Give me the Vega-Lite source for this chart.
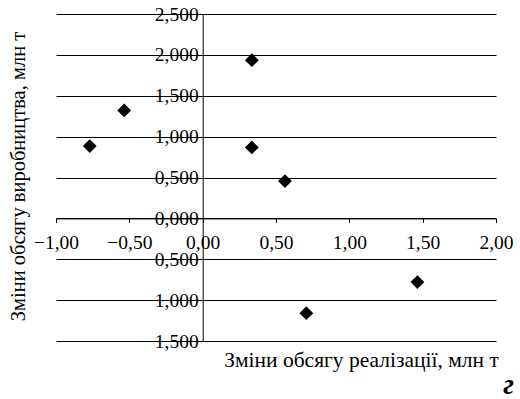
{
  "$schema": "https://vega.github.io/schema/vega-lite/v6.json",
  "width": 440,
  "height": 327,
  "autosize": {"type": "none"},
  "padding": {"left": 56, "top": 14, "right": 24, "bottom": 58},
  "background": "white",
  "title": {
    "text": "г",
    "orient": "bottom",
    "anchor": "end",
    "frame": "group",
    "offset": 20,
    "dx": 18,
    "dy": -20,
    "font": "Liberation Serif, serif",
    "fontSize": 29,
    "fontStyle": "italic",
    "fontWeight": "bold",
    "color": "#000"
  },
  "config": {
    "view": {"stroke": null},
    "axis": {
      "labelFont": "Liberation Serif, serif",
      "titleFont": "Liberation Serif, serif",
      "labelColor": "#000",
      "titleColor": "#000",
      "domainColor": "#000",
      "tickColor": "#000",
      "titleFontWeight": "normal"
    }
  },
  "data": {
    "values": [
      {"x": -0.77, "y": 0.884},
      {"x": -0.535, "y": 1.32},
      {"x": 0.335, "y": 1.935},
      {"x": 0.335, "y": 0.868},
      {"x": 0.561, "y": 0.456},
      {"x": 0.707, "y": -1.16},
      {"x": 1.464, "y": -0.779}
    ]
  },
  "mark": {"type": "point", "shape": "diamond", "filled": true, "color": "#000", "opacity": 1, "size": 190},
  "encoding": {
    "x": {
      "field": "x",
      "type": "quantitative",
      "scale": {"domain": [-1, 2], "nice": false, "zero": false},
      "axis": {
        "values": [-1, -0.5, 0, 0.5, 1, 1.5, 2],
        "labelExpr": "replace(format(datum.value, '.2f'), '.', ',')",
        "offset": -122.6,
        "grid": false,
        "tickSize": 4,
        "labelPadding": 11,
        "labelFontSize": 19.5,
        "labelFlush": false,
        "labelOverlap": false,
        "title": "Зміни обсягу реалізації, млн  т",
        "titleFontSize": 21.5,
        "titleX": 305,
        "titleY": 141.6,
        "titleAlign": "center",
        "titleBaseline": "middle",
        "titleAnchor": null
      }
    },
    "y": {
      "field": "y",
      "type": "quantitative",
      "scale": {"domain": [-1.5, 2.5], "nice": false, "zero": false},
      "axis": {
        "values": [-1.5, -1, -0.5, 0, 0.5, 1, 1.5, 2, 2.5],
        "labelExpr": "replace(format(datum.value, '.3f'), '.', ',')",
        "offset": -146.7,
        "grid": true,
        "gridColor": "#000",
        "gridOpacity": 1,
        "gridWidth": 1,
        "tickSize": 3,
        "labelPadding": 1.5,
        "labelFontSize": 19.5,
        "labelFlush": false,
        "labelOverlap": false,
        "title": "Зміни обсягу виробництва, млн  т",
        "titleFontSize": 20.5,
        "titleX": -184.7,
        "titleY": 162,
        "titleAngle": -90,
        "titleAlign": "center",
        "titleBaseline": "middle",
        "titleAnchor": null
      }
    }
  }
}
